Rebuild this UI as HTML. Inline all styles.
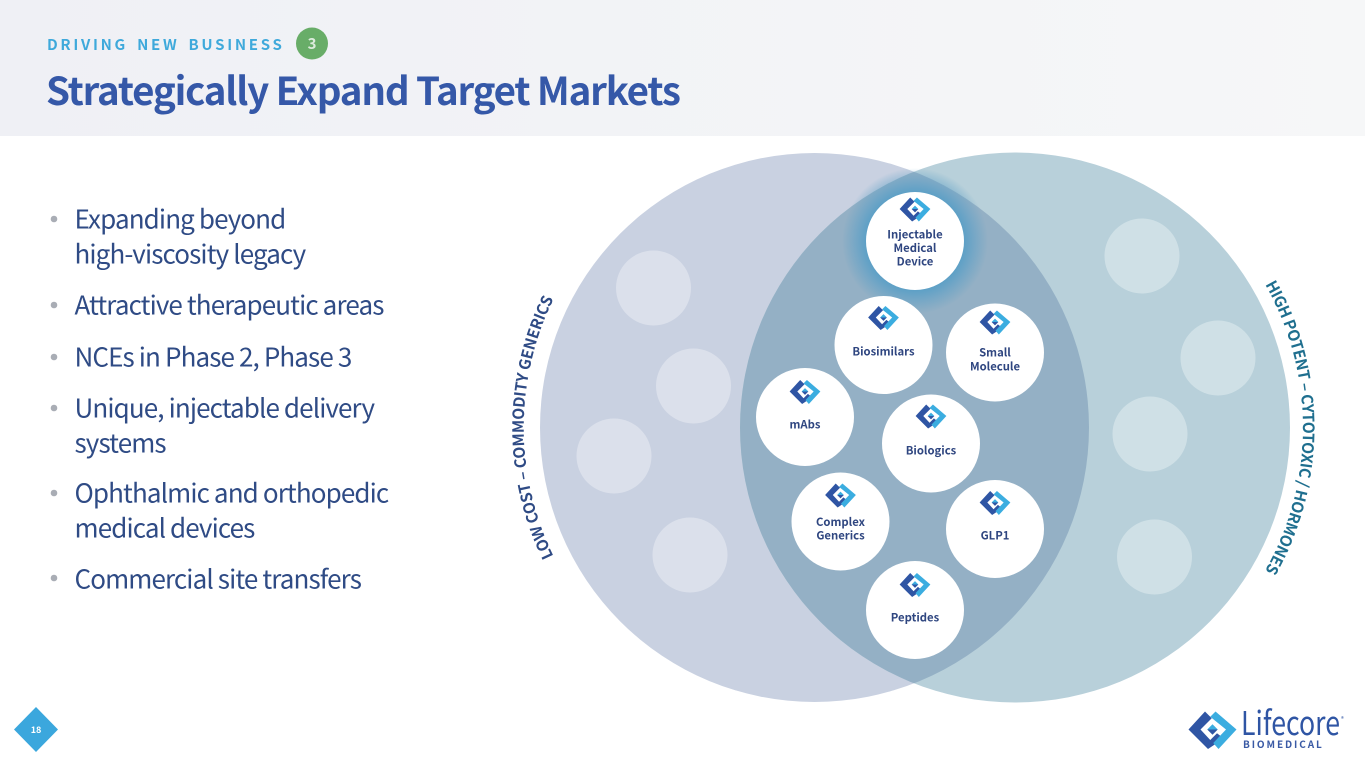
<!DOCTYPE html>
<html><head><meta charset="utf-8">
<style>
html,body{margin:0;padding:0;background:#fff;width:1365px;height:768px;overflow:hidden}
svg{display:block}
text{font-family:"Noto Sans CJK JP","Liberation Sans",sans-serif}
.b{font-size:26px;fill:#2f4b85;letter-spacing:-.88px}
.n{font-size:11.3px;font-weight:700;fill:#2f4680;text-anchor:middle}
</style></head><body>
<svg width="1365" height="768" viewBox="0 0 1365 768" xmlns="http://www.w3.org/2000/svg">
<defs>
<linearGradient id="hd" x1="0" x2="1" y1="0" y2="0"><stop offset="0" stop-color="#eff0f5"/><stop offset="1" stop-color="#f6f7f8"/></linearGradient>
<clipPath id="cl"><circle cx="814.5" cy="427.5" r="274.5"/></clipPath>
<radialGradient id="gl" gradientUnits="userSpaceOnUse" cx="915" cy="241" r="73"><stop offset=".65" stop-color="#5a9fc6"/><stop offset=".82" stop-color="#5a9fc6" stop-opacity=".5"/><stop offset="1" stop-color="#5a9fc6" stop-opacity="0"/></radialGradient>
<symbol id="ic" viewBox="-16 -13 32 26" overflow="visible">
<polygon fill="#2f55a4" points="-16,0 -5,-12 -.5,-7.5 -8,0 -1.5,7 3,2.5 7.5,6 -3,13"/>
<polygon fill="#3badE0" points="2,-12 16,0 4,13 .5,9 9,0 -1.5,-8.5"/>
<polygon fill="#3badE0" points="0,-3.5 3.5,0 -3.5,0"/>
<polygon fill="#2f55a4" points="-3.5,0 3.5,0 0,3.5"/>
</symbol>
<path id="pl" d="M 603 627.5 A 292 292 0 0 1 603 227.5"/>
<path id="pr" d="M 1222.6 227.5 A 289 289 0 0 1 1222.6 627.5"/>
</defs>

<rect width="1365" height="136" fill="url(#hd)"/>
<text x="47" y="50" font-size="15" font-weight="700" fill="#3fa9db" letter-spacing="2.7" word-spacing="3">DRIVING NEW BUSINESS</text>
<circle cx="312" cy="43.5" r="16" fill="#68ad68"/>
<text x="312" y="49" font-size="15" font-weight="700" fill="#dcebdc" text-anchor="middle">3</text>
<text x="46" y="105" font-size="38.5" font-weight="700" fill="#3558a8" letter-spacing="-1.2">Strategically Expand Target Markets</text>

<g fill="#a9adb5"><circle cx="54" cy="219" r="3.3"/><circle cx="54" cy="305" r="3.3"/><circle cx="54" cy="357" r="3.3"/><circle cx="54" cy="408" r="3.3"/><circle cx="54" cy="493" r="3.3"/><circle cx="54" cy="578" r="3.3"/></g>
<text class="b" x="74.5" y="228.5">Expanding beyond</text>
<text class="b" x="74.5" y="263.5">high-viscosity legacy</text>
<text class="b" x="74.5" y="314.5">Attractive therapeutic areas</text>
<text class="b" x="74.5" y="366.5">NCEs in Phase 2, Phase 3</text>
<text class="b" x="74.5" y="417.5">Unique, injectable delivery</text>
<text class="b" x="74.5" y="452.5">systems</text>
<text class="b" x="74.5" y="502.5">Ophthalmic and orthopedic</text>
<text class="b" x="74.5" y="537.5">medical devices</text>
<text class="b" x="74.5" y="588.5">Commercial site transfers</text>

<circle cx="814.5" cy="427.5" r="274.5" fill="#c9d1e1"/>
<circle cx="1015" cy="427.5" r="275" fill="#b8d0da"/>
<circle cx="1015" cy="427.5" r="275" fill="#94b0c5" clip-path="url(#cl)"/>
<circle cx="915" cy="241" r="73" fill="url(#gl)"/>

<g fill="#dbe0eb"><circle cx="653.5" cy="288" r="37.5"/><circle cx="693.5" cy="386" r="37.5"/><circle cx="614" cy="456" r="37.5"/><circle cx="690" cy="555" r="37.5"/></g>
<g fill="#cfe0e6"><circle cx="1142" cy="256" r="37.5"/><circle cx="1218" cy="358" r="37.5"/><circle cx="1150" cy="434" r="37.5"/><circle cx="1154.5" cy="557" r="37.5"/></g>

<g fill="#fff"><circle cx="915" cy="241" r="49"/><circle cx="883.5" cy="345" r="49"/><circle cx="995" cy="352.5" r="49"/><circle cx="805" cy="417" r="49"/><circle cx="931" cy="443.5" r="49"/><circle cx="840.5" cy="521.5" r="49"/><circle cx="995" cy="529" r="49"/><circle cx="915" cy="610" r="49"/></g>

<use href="#ic" x="899.5" y="196.5" width="31" height="25"/>
<use href="#ic" x="868" y="305" width="31" height="25"/>
<use href="#ic" x="979.5" y="309.5" width="31" height="25"/>
<use href="#ic" x="789.5" y="379" width="31" height="25"/>
<use href="#ic" x="915.5" y="403.5" width="31" height="25"/>
<use href="#ic" x="825" y="482.5" width="31" height="25"/>
<use href="#ic" x="979.5" y="490" width="31" height="25"/>
<use href="#ic" x="899.5" y="572" width="31" height="25"/>

<text class="n" x="915" y="238.5">Injectable</text>
<text class="n" x="915" y="252">Medical</text>
<text class="n" x="915" y="265.5">Device</text>
<text class="n" x="883.5" y="355.5">Biosimilars</text>
<text class="n" x="995" y="356.5">Small</text>
<text class="n" x="995" y="370.5">Molecule</text>
<text class="n" x="805" y="428.5">mAbs</text>
<text class="n" x="931" y="454.5">Biologics</text>
<text class="n" x="840.5" y="526">Complex</text>
<text class="n" x="840.5" y="539.5">Generics</text>
<text class="n" x="995" y="539.5">GLP1</text>
<text class="n" x="915" y="621.5">Peptides</text>

<text font-size="15.5" font-weight="700" fill="#2f4b85" letter-spacing="-.1"><textPath href="#pl" startOffset="50%" text-anchor="middle">LOW COST – COMMODITY GENERICS</textPath></text>
<text font-size="15.5" font-weight="700" fill="#1f6f8f" letter-spacing="-.3"><textPath href="#pr" startOffset="50%" text-anchor="middle">HIGH POTENT – CYTOTOXIC / HORMONES</textPath></text>

<polygon points="36,707 58,729.5 36,752 14,729.5" fill="#3ba7dd"/>
<text x="36" y="733" font-size="9" font-weight="700" fill="#fff" text-anchor="middle">18</text>

<use href="#ic" x="1187" y="710" width="51" height="39"/>
<text x="1241" y="735" font-size="33" font-weight="400" fill="#2f55a4" textLength="99" lengthAdjust="spacingAndGlyphs">Lifecore</text>
<text x="1341" y="721" font-size="6" fill="#2f55a4">®</text>
<text x="1243" y="748" font-size="10" font-weight="700" fill="#3a5aa5" letter-spacing="1.9">BIOMEDICAL</text>
</svg>
</body></html>
